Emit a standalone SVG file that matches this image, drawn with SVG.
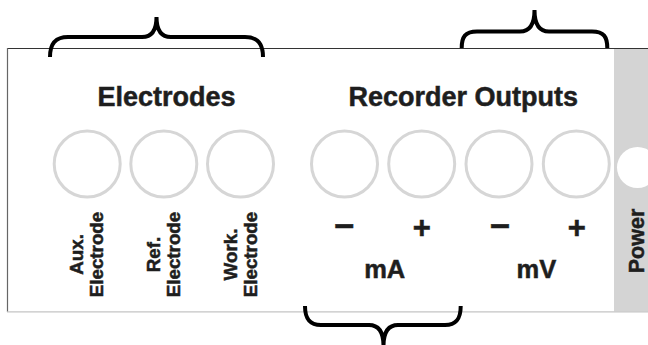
<svg xmlns="http://www.w3.org/2000/svg" width="648" height="345" viewBox="0 0 648 345">
<defs>
<style>
.t{font-family:"Liberation Sans",Arial,sans-serif;font-weight:bold;fill:#1e1e1e;stroke:#1e1e1e;stroke-width:0.5}
.h{font-size:27px;text-anchor:middle}
.v{font-size:18.8px;text-anchor:middle}
.s{font-size:31px;text-anchor:middle}
.m{font-size:35px;text-anchor:middle}
.u{font-size:25.5px;text-anchor:middle}
.jack{fill:#fff;stroke:#d6d6d6;stroke-width:3}
.brace{fill:none;stroke:#000;stroke-width:4;stroke-linecap:butt}
</style>
</defs>
<g id="panel">
<rect x="7.5" y="48" width="641" height="264" fill="#fff"/>
<rect x="614" y="48.5" width="34" height="263" fill="#d4d4d4"/>
<line x1="7.5" y1="48.5" x2="648" y2="48.5" stroke="#333" stroke-width="1.2"/>
<line x1="7.5" y1="48" x2="7.5" y2="312" stroke="#666" stroke-width="1.2"/>
<line x1="7" y1="311.8" x2="648" y2="311.8" stroke="#c4c4c4" stroke-width="1.2"/>
</g>
<g id="power">
<circle cx="637.5" cy="167.5" r="20.5" fill="#fff"/>
<text class="t" font-size="21.5" text-anchor="middle" transform="translate(644 241) rotate(-90)">Power</text>
</g>
<g id="electrodes">
<text class="t h" x="166.5" y="106">Electrodes</text>
<g id="aux"><circle class="jack" cx="87.2" cy="164" r="33"/>
<text class="t v" transform="translate(82.5 254.5) rotate(-90)">Aux.</text>
<text class="t v" transform="translate(102.5 254.5) rotate(-90)">Electrode</text></g>
<g id="ref"><circle class="jack" cx="163.8" cy="164" r="33"/>
<text class="t v" transform="translate(159.5 254.5) rotate(-90)">Ref.</text>
<text class="t v" transform="translate(179.5 254.5) rotate(-90)">Electrode</text></g>
<g id="work"><circle class="jack" cx="240.5" cy="164" r="33"/>
<text class="t v" transform="translate(236.5 254.5) rotate(-90)">Work.</text>
<text class="t v" transform="translate(256.5 254.5) rotate(-90)">Electrode</text></g>
</g>
<g id="recorder">
<text class="t h" x="463.3" y="106">Recorder Outputs</text>
<g id="ma-minus"><circle class="jack" cx="344.5" cy="164" r="33"/><text class="t m" x="344.3" y="238">−</text></g>
<g id="ma-plus"><circle class="jack" cx="421.7" cy="164" r="33"/><text class="t s" x="421.7" y="237.5">+</text></g>
<g id="mv-minus"><circle class="jack" cx="499" cy="164" r="33"/><text class="t m" x="500" y="238">−</text></g>
<g id="mv-plus"><circle class="jack" cx="576.3" cy="164" r="33"/><text class="t s" x="576.7" y="237.5">+</text></g>
<text class="t u" x="384.7" y="278.3">mA</text>
<text class="t u" x="536.3" y="278.3">mV</text>
</g>
<g id="connectors">
<path class="brace" d="M50,57 C50,44 55,37 68,37 L142,37 C151,37 156.5,31 156.5,17 C156.5,31 162,37 171,37 L245,37 C258,37 263,44 263,57"/>
<path class="brace" d="M461.7,48 C461.7,37 465,31.5 477,31.5 L520,31.5 C529,31.5 534.5,25 534.5,10 C534.5,25 540,31.5 549,31.5 L592,31.5 C604,31.5 607.3,37 607.3,48"/>
<path class="brace" d="M305,306 C305,318 309,325 321,325 L369,325 C378,325 383.5,331 383.5,346 C383.5,331 389,325 398,325 L445,325 C457,325 460.7,318 460.7,306"/>
</g>
</svg>
